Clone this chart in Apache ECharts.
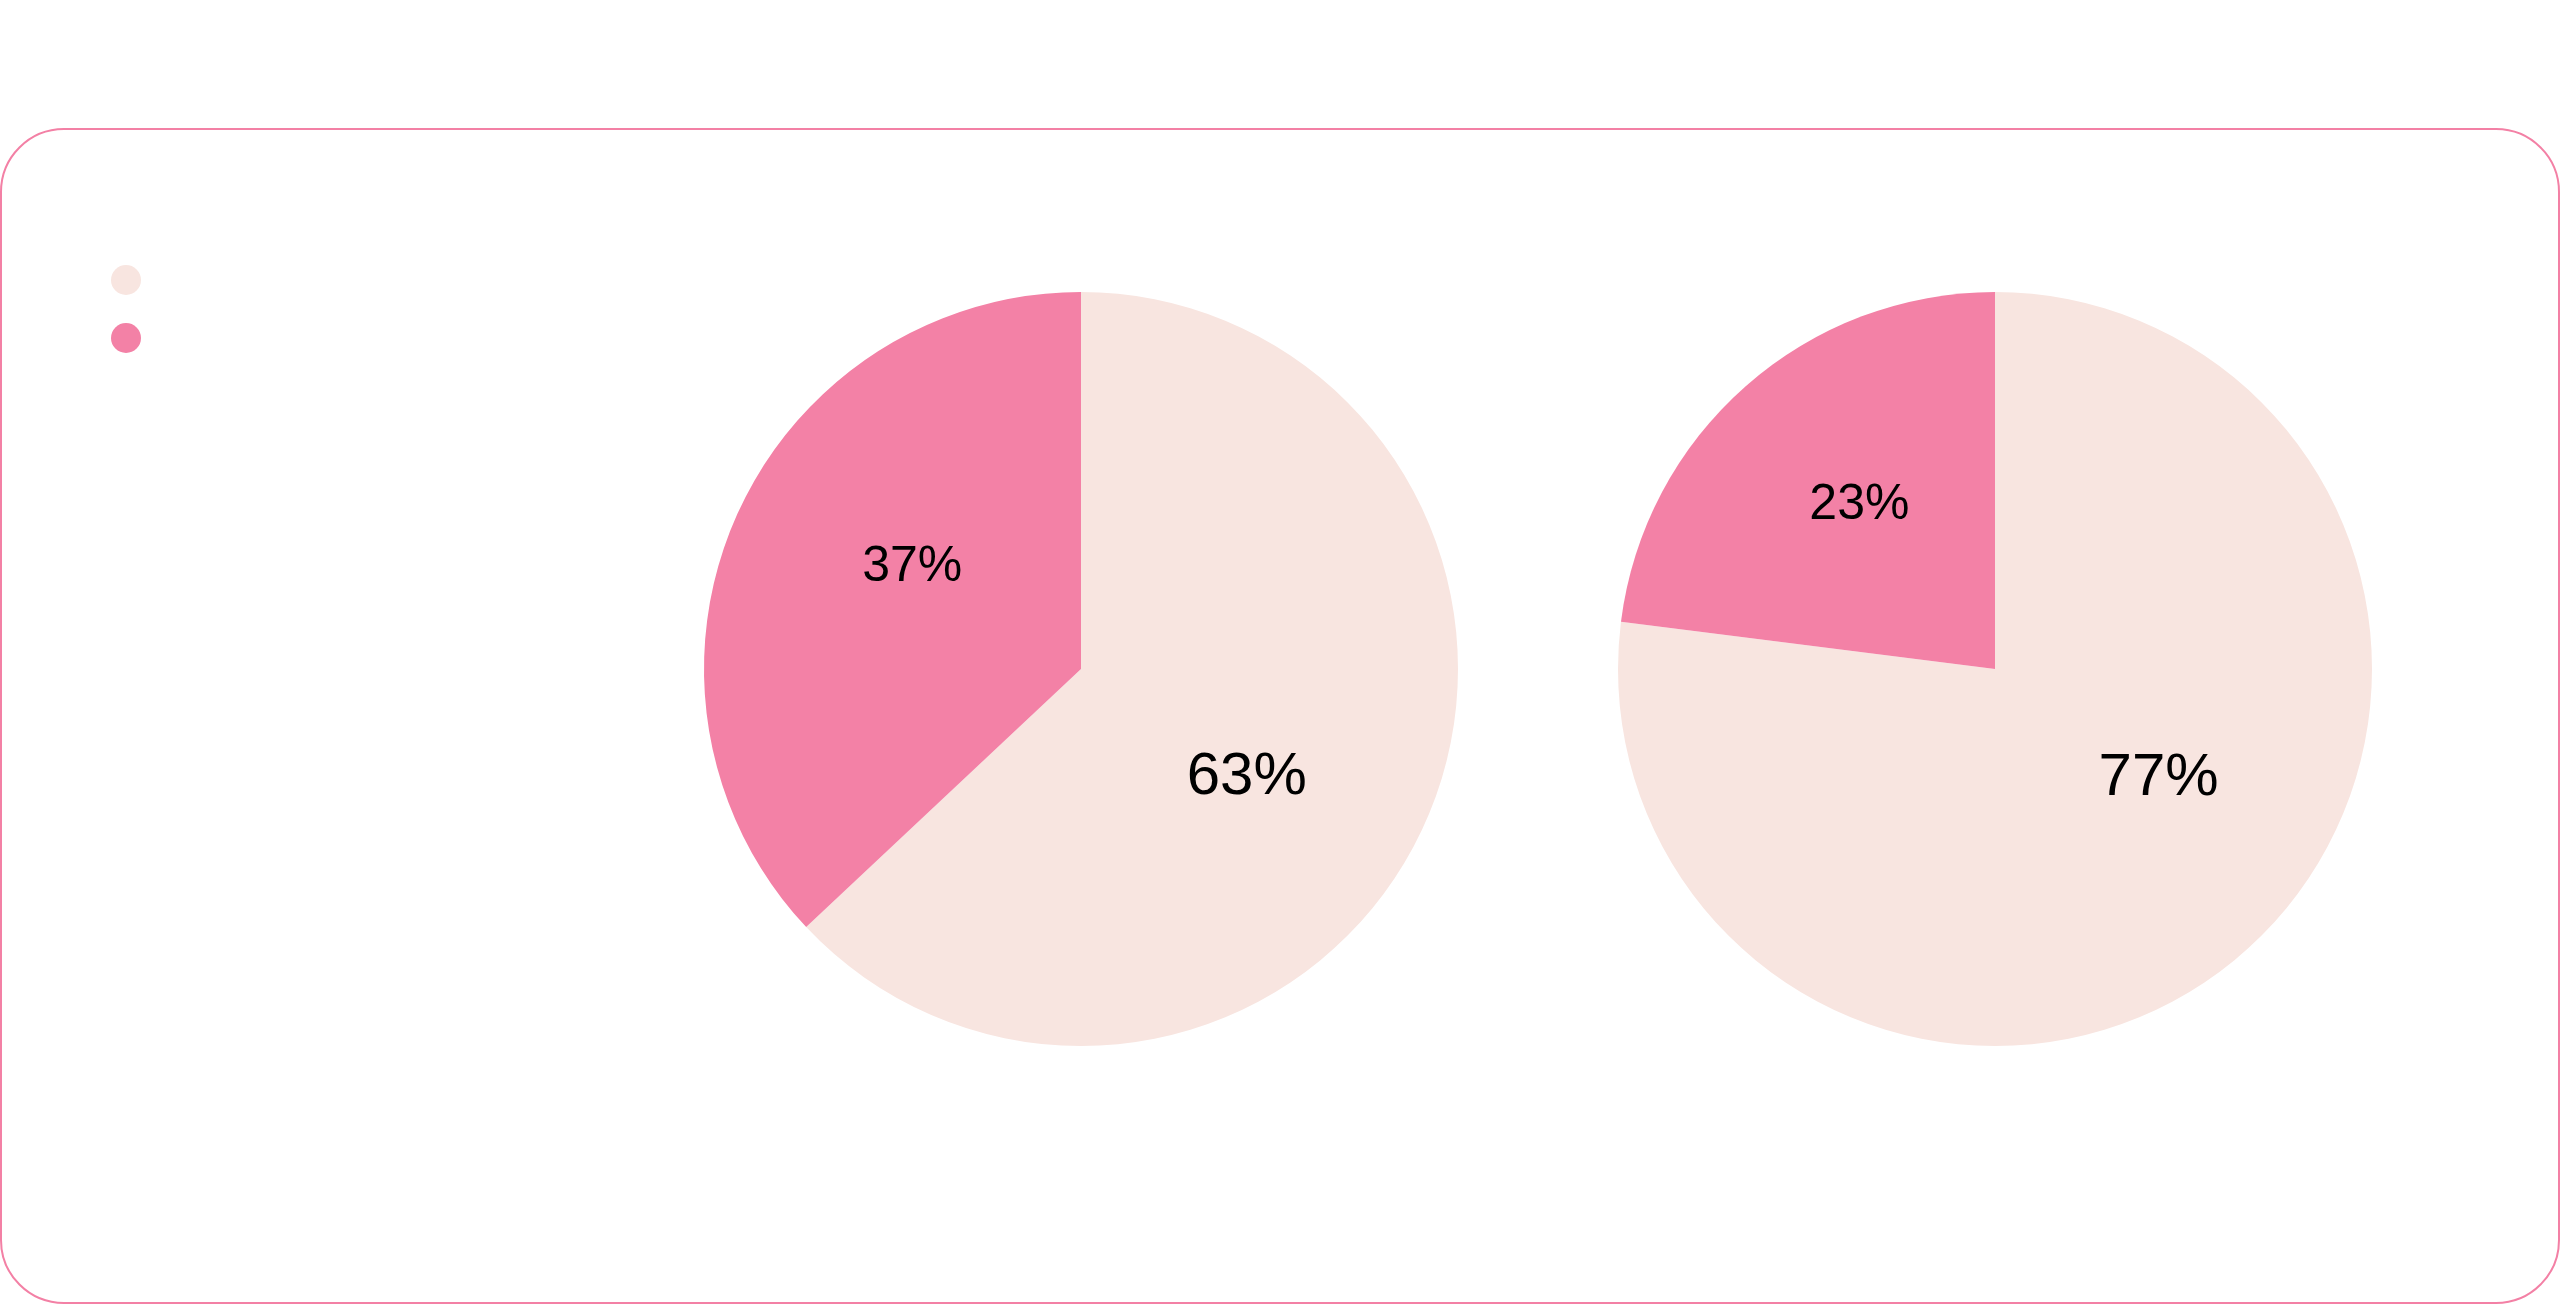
<!DOCTYPE html>
<html>
<head>
<meta charset="utf-8">
<title>pie</title>
<script src="https://cdn.jsdelivr.net/npm/echarts@6/dist/echarts.min.js"></script>
<style>
    html, body { margin: 0; padding: 0; background: #fff; }
    .box {
        position: absolute; left: 0; top: 128px;
        width: 2560px; height: 1176px;
        box-sizing: border-box;
        border: 2px solid #f380a5;
        border-radius: 64px;
    }
    #pie { position: absolute; left: 0; top: 0; width: 2560px; height: 1304px; }
</style>
</head>
<body>
<div class="box"></div>
<div id="pie"></div>
<script>
// 图例名称（图上不显示文字）
var names = ['Remaining', 'Done'];
// 两个饼图的数值
var leftValues = [63, 37];
var rightValues = [77, 23];
var colors = ['#f8e5e0', '#f381a6'];

// 标签的微调位置
var leftShift = [[-10, 32], [7, -26]];
var rightShift = [[37, -34], [-9, -20]];
var labelSize = [60, 50];

function buildData(values, shift) {
    var list = [];
    for (var i = 0; i < values.length; i++) {
        list.push({
            name: names[i],
            value: values[i],
            itemStyle: { color: colors[i] },
            label: { offset: shift[i], fontSize: labelSize[i] }
        });
    }
    return list;
}

function pieSeries(values, shift, cx) {
    return {
        type: 'pie',
        center: [cx, 669],
        radius: 377,
        startAngle: 90,
        clockwise: true,
        animation: false,
        silent: true,
        label: {
            show: true,
            position: 'inside',
            formatter: '{d}%',
            color: '#000',
            fontFamily: 'Liberation Sans, Arial, sans-serif'
        },
        labelLine: { show: false },
        emphasis: { disabled: true },
        data: buildData(values, shift)
    };
}

var myChart = echarts.init(document.getElementById('pie'));
var option = {
    legend: {
        orient: 'vertical',
        left: 106,
        top: 260,
        icon: 'circle',
        itemWidth: 30,
        itemHeight: 30,
        itemGap: 28,
        data: names,
        formatter: function() { return ''; }
    },
    series: [
        pieSeries(leftValues, leftShift, 1081),
        pieSeries(rightValues, rightShift, 1995)
    ]
};
myChart.setOption(option);
</script>
</body>
</html>
